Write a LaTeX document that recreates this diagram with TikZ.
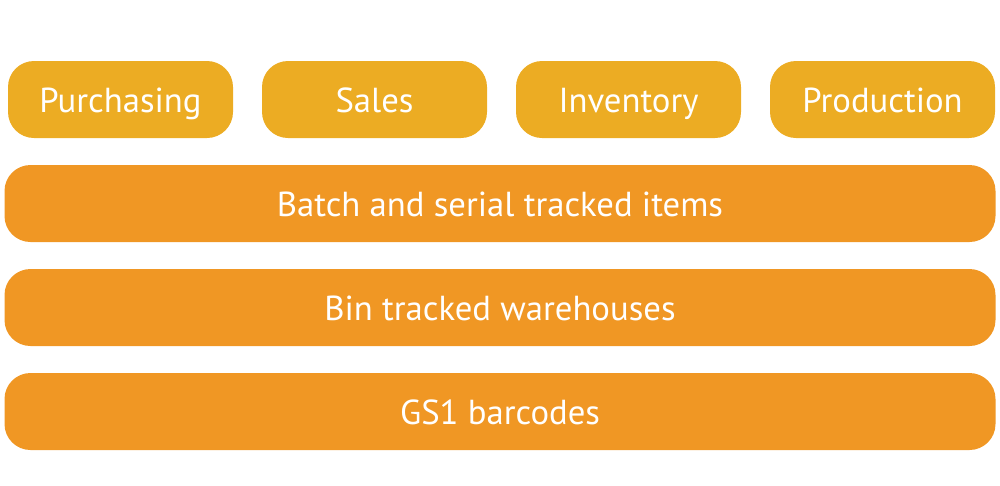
\documentclass[tikz,border=0pt]{standalone}
\usepackage{fontspec}
\setmainfont{PT Sans}
\definecolor{topc}{HTML}{ECAC23}
\definecolor{barc}{HTML}{F09724}
\begin{document}
\begin{tikzpicture}[x=1pt,y=-1pt,
  base/.style={rounded corners=26pt,minimum height=77pt,inner sep=0pt,text=white,text height=25pt,text depth=0pt,font=\fontsize{34.7}{40}\selectfont},
  topbox/.style={base,fill=topc,minimum width=225pt},
  barbox/.style={base,fill=barc,minimum width=991pt}]
\useasboundingbox (0,0) rectangle (1000,485);
\node[topbox] (purch) at (120.5,99.5) {Purchasing};
\node[topbox] (sales) at (374.5,99.5) {Sales};
\node[topbox] (inv) at (628.5,99.5) {Inventory};
\node[topbox] (prod) at (882.5,99.5) {Production};
\node[barbox] (batch) at (500,203.5) {Batch and serial tracked items};
\node[barbox] (bin) at (500,307.5) {Bin tracked warehouses};
\node[barbox] (gs1) at (500,411.5) {GS1 barcodes};
\end{tikzpicture}
\end{document}
